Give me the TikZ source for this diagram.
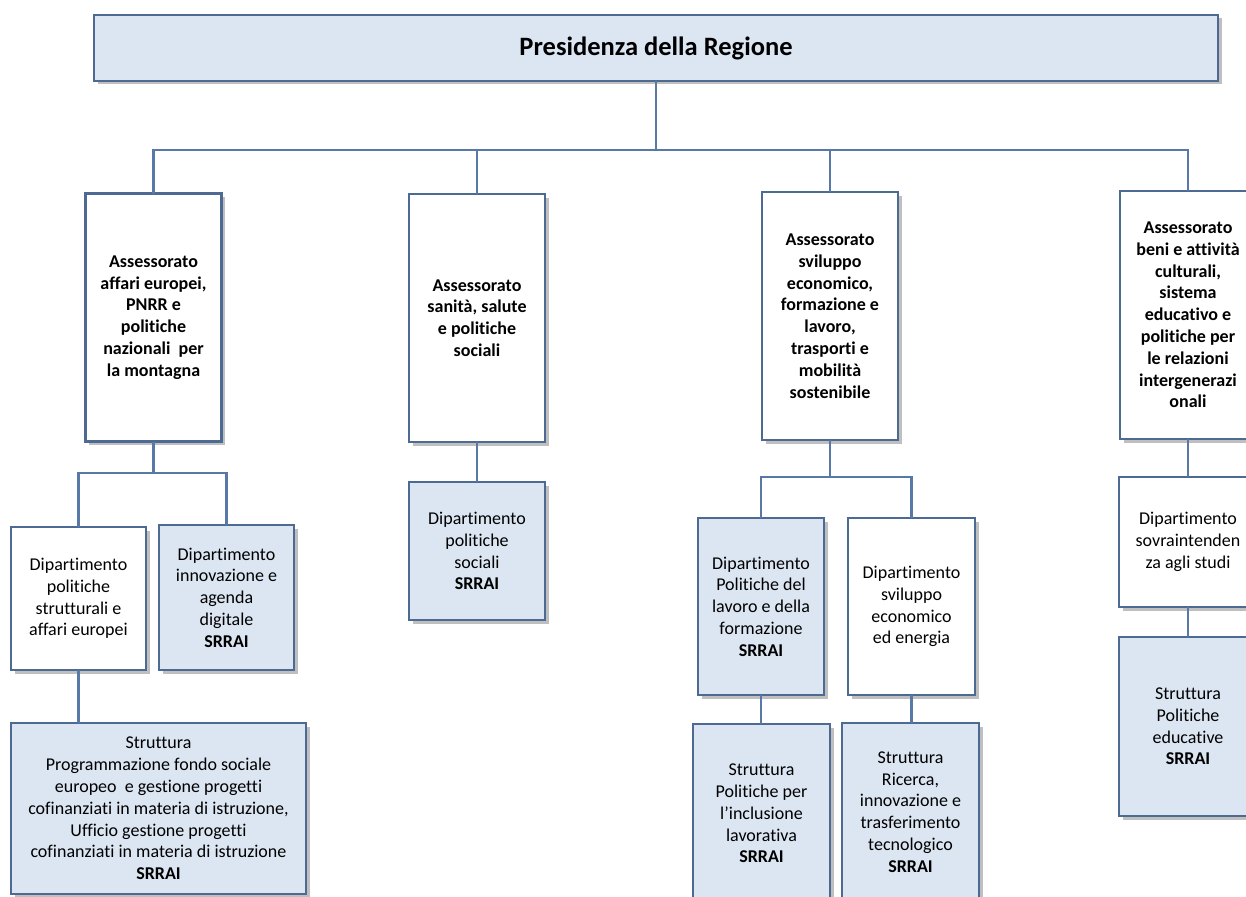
\documentclass[tikz,border=0pt]{standalone}
\usepackage{fontspec}
\setmainfont[Ligatures={NoCommon}]{Carlito}
\usepackage{xcolor}
\usepackage{tikz}
\usetikzlibrary{calc,shadows}
\definecolor{orgline}{HTML}{5879A8}
\definecolor{orgborder}{HTML}{4D6A92}
\definecolor{orgfill}{HTML}{DCE6F2}
\newcommand{\orgline}[3]{
\coordinate (p) at (#1.south);
\coordinate (c) at (#2.north);
\draw[conn] (p) |- (c |- 0,#3) -- (c);
}
\newcommand{\srrai}{\\\textbf{SRRAI}}
\tikzset{
conn/.style={draw=orgline, line width=2.6pt},
unit/.style={draw=orgborder, line width=2.8pt, fill=white, align=center,
  inner sep=0pt, outer sep=0pt, font=\fontsize{18}{21.8}\selectfont,
  drop shadow={shadow xshift=3.5pt, shadow yshift=-3.5pt, fill=black!50, opacity=0.5}},
shaded/.style={unit, fill=orgfill},
assbox/.style={unit, font=\fontsize{18}{21.8}\selectfont\bfseries,
  minimum width=136pt, minimum height=248pt},
}

\begin{document}
\begin{tikzpicture}[x=1pt, y=-1pt]
\useasboundingbox (0, 0) rectangle (1246, 896);
\fill[white] (0, 0) rectangle (1246, 896);
\clip (0, 0) rectangle (1246, 896);

\node[shaded, minimum width=1124pt, minimum height=66pt,
  font=\fontsize{26.5}{30}\selectfont\bfseries] at (656, 48) (pres) {Presidenza della Regione};

\node[assbox] at (153.5, 317.5) (ass1) {Assessorato\\affari europei,\\PNRR e\\politiche\\nazionali\ \ per\\la montagna};
\node[assbox] at (477, 318)     (ass2) {Assessorato\\sanità, salute\\e politiche\\sociali};
\node[assbox] at (830, 316)     (ass3) {Assessorato\\sviluppo\\economico,\\formazione e\\lavoro,\\trasporti e\\mobilità\\sostenibile};
\node[assbox] at (1188, 315)    (ass4) {Assessorato\\beni e attività\\culturali,\\sistema\\educativo e\\politiche per\\le relazioni\\intergenerazi\\onali};

\node[unit, minimum width=135pt, minimum height=143pt]   at (78.5, 598.5)  (dip1) {Dipartimento\\politiche\\strutturali e\\affari europei};
\node[shaded, minimum width=135pt, minimum height=145pt] at (226.5, 597.5) (dip2) {Dipartimento\\innovazione e\\agenda\\digitale\srrai};
\node[shaded, minimum width=136pt, minimum height=138pt] at (477, 551)     (dip3) {Dipartimento\\politiche\\sociali\srrai};
\node[shaded, minimum width=126pt, minimum height=177pt] at (761, 606.5)   (dip4) {Dipartimento\\Politiche del\\lavoro e della\\formazione\srrai};
\node[unit, minimum width=127pt, minimum height=177pt]   at (911.5, 606.5) (dip5) {Dipartimento\\sviluppo\\economico\\ed energia};
\node[unit, minimum width=138pt, minimum height=130pt]   at (1188, 542)    (dip6) {Dipartimento\\sovraintenden\\za agli studi};

\node[shaded, minimum width=295pt, minimum height=171pt] at (158.5, 808.5) (str1) {Struttura\\Programmazione fondo sociale\\europeo\ \ e gestione progetti\\cofinanziati in materia di istruzione,\\Ufficio gestione progetti\\cofinanziati in materia di istruzione\srrai};
\node[shaded, minimum width=137pt, minimum height=179pt] at (761.5, 813.5) (str2) {Struttura\\Politiche per\\l’inclusione\\lavorativa\srrai};
\node[shaded, minimum width=137pt, minimum height=178pt] at (910.5, 812)   (str3) {Struttura\\Ricerca,\\innovazione e\\trasferimento\\tecnologico\srrai};
\node[shaded, minimum width=138pt, minimum height=179pt] at (1188, 726.5)  (str4) {Struttura\\Politiche\\educative\srrai};

% presidenza to assessorati
\orgline{pres}{ass1}{150}
\orgline{pres}{ass2}{150}
\orgline{pres}{ass3}{150}
\orgline{pres}{ass4}{150}
% assessorati to dipartimenti
\orgline{ass1}{dip1}{473}
\orgline{ass1}{dip2}{473}
\draw[conn] (ass2.south) -- (dip3.north);
\orgline{ass3}{dip4}{477}
\orgline{ass3}{dip5}{477}
\draw[conn] (ass4.south) -- (dip6.north);
% dipartimenti to strutture
\draw[conn] (dip1.south) -- (dip1.south |- str1.north);
\draw[conn] (dip4.south) -- (dip4.south |- str2.north);
\draw[conn] (dip5.south) -- (dip5.south |- str3.north);
\draw[conn] (dip6.south) -- (str4.north);
\end{tikzpicture}
\end{document}
